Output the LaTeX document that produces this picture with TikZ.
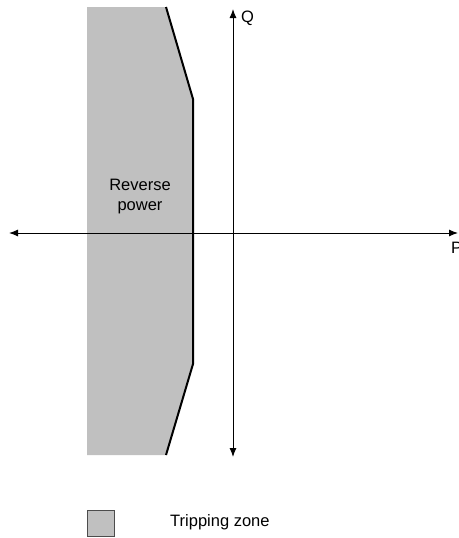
\documentclass[tikz,border=0pt]{standalone}
\usepackage{fontspec}
\setmainfont{Liberation Sans}
\usetikzlibrary{arrows.meta}
\definecolor{zonegray}{HTML}{C0C0C0}
\tikzset{
  axis/.style={line width=1pt, black, {Latex[length=9pt,width=7pt]}-{Latex[length=9pt,width=7pt]}},
  boundary/.style={line width=2pt, black, line join=miter},
  lbl/.style={font=\fontsize{16.5}{20}\selectfont, inner sep=0pt, align=center},
  legendbox/.style={draw=black!70, line width=0.8pt, fill=zonegray, minimum width=27pt, minimum height=26pt, inner sep=0pt}
}
\begin{document}
\begin{tikzpicture}[x=1pt,y=-1pt]
\useasboundingbox (0,0) rectangle (458,538);
% coordinates
\coordinate (top) at (166,7);
\coordinate (b1) at (193,99);
\coordinate (b2) at (193,364);
\coordinate (bot) at (166,455);
\coordinate (tl) at (87,7);
\coordinate (bl) at (87,455);
\coordinate (qt) at (233,9);
\coordinate (qb) at (233,457);
\coordinate (pl) at (9,233);
\coordinate (pr) at (458,233);
% tripping zone
\fill[zonegray] (tl) -- (top) -- (b1) -- (b2) -- (bot) -- (bl) -- cycle;
% axes
\draw[axis] (pl) -- (pr);
\draw[axis] (qb) -- (qt);
% boundary
\draw[boundary] (top) -- (b1) -- (b2) -- (bot);
% labels
\node[lbl, anchor=west] (Q) at (241,18) {Q};
\node[lbl, anchor=west] (P) at (451,248) {P};
\node[lbl] (rp) at (140,197) {Reverse\\power};
% legend
\node[legendbox] (lg) at (100.5,523) {};
\node[lbl, anchor=west] (lgt) at (170,522) {Tripping zone};
\end{tikzpicture}
\end{document}
